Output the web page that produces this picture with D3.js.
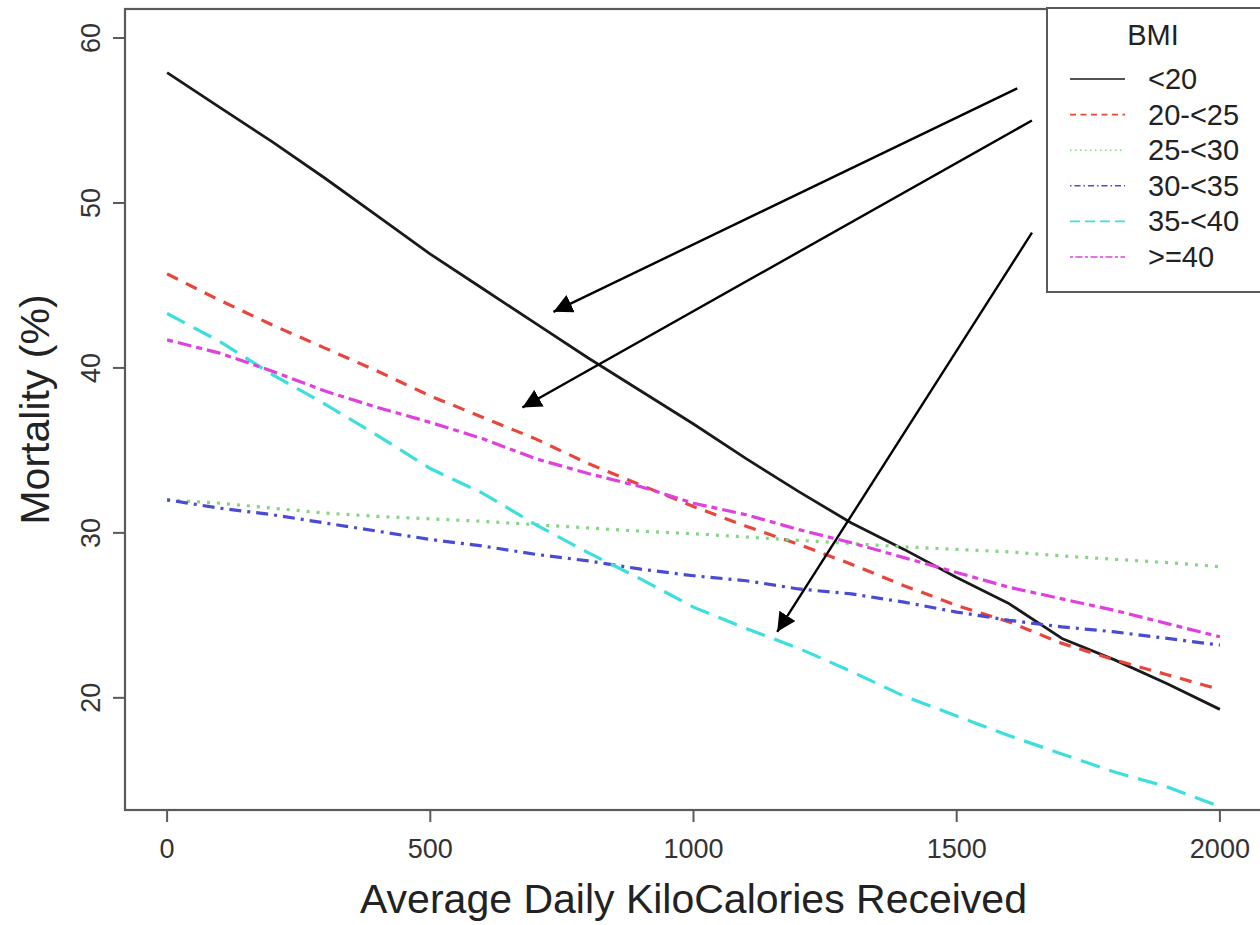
<!DOCTYPE html>
<html>
<head>
<meta charset="utf-8">
<script src="https://cdn.jsdelivr.net/npm/d3@7"></script>
<style>
  body { margin: 0; background: #fff; }
  svg { display: block; font-family: "Liberation Sans", Arial, sans-serif; }
</style>
</head>
<body>
<svg id="chart" width="1260" height="925"></svg>
<script>
// kcal values on the x axis
const kcal = [0, 100, 200, 300, 400, 500, 600, 700, 800, 900, 1000,
              1100, 1200, 1300, 1400, 1500, 1600, 1700, 1800, 1900, 2000];

// mortality (%) by BMI group
const bmiUnder20 = [57.9, 55.8, 53.7, 51.5, 49.2, 46.9, 44.8, 42.7, 40.6, 38.6, 36.6,
                    34.5, 32.5, 30.6, 29.0, 27.3, 25.7, 23.6, 22.3, 20.85, 19.3];
const bmi20to25 = [45.7, 44.1, 42.6, 41.2, 39.8, 38.3, 37.0, 35.7, 34.2, 32.9, 31.6,
                   30.4, 29.3, 28.1, 26.8, 25.6, 24.6, 23.3, 22.3, 21.4, 20.5];
const bmi25to30 = [32.0, 31.8, 31.5, 31.2, 31.0, 30.85, 30.7, 30.5, 30.3, 30.1, 29.95,
                   29.75, 29.55, 29.35, 29.15, 29.0, 28.85, 28.6, 28.4, 28.2, 27.95];
const bmi30to35 = [32.0, 31.5, 31.1, 30.6, 30.1, 29.6, 29.2, 28.7, 28.3, 27.8, 27.4,
                   27.1, 26.6, 26.3, 25.8, 25.2, 24.7, 24.3, 24.0, 23.6, 23.2];
const bmi35to40 = [43.3, 41.6, 39.6, 37.8, 35.9, 33.9, 32.4, 30.5, 28.8, 27.2, 25.5,
                   24.2, 23.0, 21.6, 20.1, 18.9, 17.7, 16.6, 15.5, 14.6, 13.4];
const bmiOver40 = [41.7, 40.9, 39.8, 38.6, 37.6, 36.7, 35.7, 34.5, 33.6, 32.8, 31.8,
                   31.1, 30.2, 29.4, 28.5, 27.6, 26.7, 26.0, 25.3, 24.5, 23.7];

const groupLabels = ["<20", "20-<25", "25-<30", "30-<35", "35-<40", ">=40"];
const xTicks = [0, 500, 1000, 1500, 2000];
const yTicks = [20, 30, 40, 50, 60];

// annotation arrows, in data units: [x0, y0, x1, y1]
const arrows = [
  [1615, 56.95, 734, 43.4],
  [1643, 55.0, 675, 37.6],
  [1643, 48.2, 1159, 24.0]
];

const series = [
  { name: groupLabels[0], values: bmiUnder20, color: "#1a1a1a", dash: null },
  { name: groupLabels[1], values: bmi20to25, color: "#e8453c", dash: "12,9" },
  { name: groupLabels[2], values: bmi25to30, color: "#86d486", dash: "3,7" },
  { name: groupLabels[3], values: bmi30to35, color: "#4a4ad2", dash: "3,6,12,6" },
  { name: groupLabels[4], values: bmi35to40, color: "#3cdede", dash: "20,10" },
  { name: groupLabels[5], values: bmiOver40, color: "#e040e0", dash: "6,5,14,5" }
];

const svg = d3.select("#chart");
svg.append("rect").attr("width", 1260).attr("height", 925).attr("fill", "#fff");

const plot = { left: 125, right: 1262, top: 9, bottom: 810 };

const x = d3.scaleLinear().domain([-80, 2080]).range([plot.left, plot.right]);
const y = d3.scaleLinear().domain([13.2, 61.76]).range([plot.bottom, plot.top]);

// lines
const line = d3.line()
  .x((d, i) => x(kcal[i]))
  .y(d => y(d));

svg.append("g").selectAll("path")
  .data(series)
  .join("path")
  .attr("d", d => line(d.values))
  .attr("fill", "none")
  .attr("stroke", d => d.color)
  .attr("stroke-width", d => d.dash ? 3.2 : 2.8)
  .attr("stroke-linejoin", "round")
  .attr("stroke-dasharray", d => d.dash);

// frame
svg.append("rect")
  .attr("x", plot.left).attr("y", plot.top)
  .attr("width", plot.right - plot.left).attr("height", plot.bottom - plot.top)
  .attr("fill", "none").attr("stroke", "#5a5a5a").attr("stroke-width", 2.2);

// x axis
const xAxis = svg.append("g");
xAxis.selectAll("line").data(xTicks).join("line")
  .attr("x1", d => x(d)).attr("x2", d => x(d))
  .attr("y1", plot.bottom).attr("y2", plot.bottom + 12)
  .attr("stroke", "#5a5a5a").attr("stroke-width", 2);
xAxis.selectAll("text").data(xTicks).join("text")
  .attr("x", d => x(d)).attr("y", 858)
  .attr("text-anchor", "middle")
  .attr("font-size", 27).attr("fill", "#333")
  .text(d => d);

// y axis
const yAxis = svg.append("g");
yAxis.selectAll("line").data(yTicks).join("line")
  .attr("x1", plot.left - 12).attr("x2", plot.left)
  .attr("y1", d => y(d)).attr("y2", d => y(d))
  .attr("stroke", "#5a5a5a").attr("stroke-width", 2);
yAxis.selectAll("text").data(yTicks).join("text")
  .attr("transform", d => `translate(100,${y(d)}) rotate(-90)`)
  .attr("text-anchor", "middle")
  .attr("font-size", 27).attr("fill", "#333")
  .text(d => d);

// axis titles
svg.append("text")
  .attr("x", (plot.left + plot.right) / 2).attr("y", 913)
  .attr("text-anchor", "middle")
  .attr("font-size", 41).attr("fill", "#222")
  .text("Average Daily KiloCalories Received");

svg.append("text")
  .attr("transform", `translate(49,${(plot.top + plot.bottom) / 2}) rotate(-90)`)
  .attr("text-anchor", "middle")
  .attr("font-size", 41).attr("fill", "#222")
  .text("Mortality (%)");

// legend
const legend = svg.append("g");
legend.append("rect")
  .attr("x", 1047).attr("y", 8).attr("width", 230).attr("height", 284)
  .attr("fill", "#fff").attr("stroke", "#5a5a5a").attr("stroke-width", 2);
legend.append("text")
  .attr("x", 1153).attr("y", 45)
  .attr("text-anchor", "middle").attr("font-size", 29).attr("fill", "#222")
  .text("BMI");
const rows = legend.selectAll("g.row").data(series).join("g")
  .attr("class", "row")
  .attr("transform", (d, i) => `translate(0,${79 + i * 35.6})`);
rows.append("line")
  .attr("x1", 1070).attr("x2", 1125)
  .attr("stroke", d => d.color).attr("stroke-width", 1.6)
  .attr("stroke-dasharray", d => d.dash ? d.dash.split(",").map(v => v / 2).join(",") : null);
rows.append("text")
  .attr("x", 1148).attr("y", 10)
  .attr("font-size", 29).attr("fill", "#222")
  .text(d => d.name);

// arrows
svg.append("defs").append("marker")
  .attr("id", "head")
  .attr("viewBox", "0 0 10 10")
  .attr("refX", 10).attr("refY", 5)
  .attr("markerWidth", 19).attr("markerHeight", 19)
  .attr("markerUnits", "userSpaceOnUse")
  .attr("orient", "auto")
  .append("path")
  .attr("d", "M0,0 L10,5 L0,10 Z")
  .attr("fill", "#000");

svg.append("g").selectAll("line").data(arrows).join("line")
  .attr("x1", d => x(d[0])).attr("y1", d => y(d[1]))
  .attr("x2", d => x(d[2])).attr("y2", d => y(d[3]))
  .attr("stroke", "#000").attr("stroke-width", 2.4)
  .attr("marker-end", "url(#head)");
</script>
</body>
</html>
